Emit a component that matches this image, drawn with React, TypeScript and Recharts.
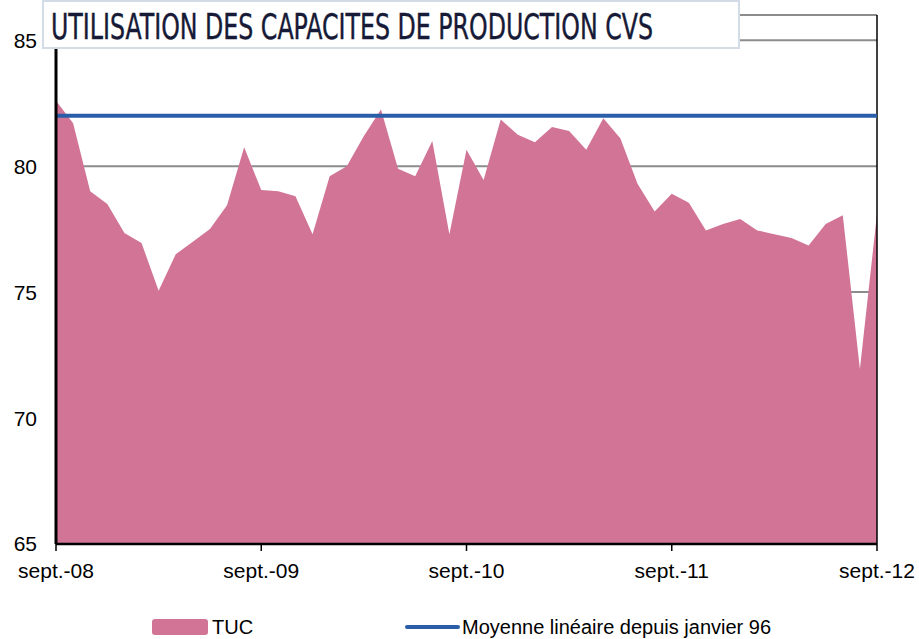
import React from "react"
import { AreaChart, Area, XAxis, YAxis, CartesianGrid, ReferenceLine } from "recharts"

const months = [
  "sept.-08", "oct.-08", "nov.-08", "déc.-08",
  "janv.-09", "févr.-09", "mars-09", "avr.-09", "mai-09", "juin-09", "juil.-09", "août-09", "sept.-09", "oct.-09", "nov.-09", "déc.-09",
  "janv.-10", "févr.-10", "mars-10", "avr.-10", "mai-10", "juin-10", "juil.-10", "août-10", "sept.-10", "oct.-10", "nov.-10", "déc.-10",
  "janv.-11", "févr.-11", "mars-11", "avr.-11", "mai-11", "juin-11", "juil.-11", "août-11", "sept.-11", "oct.-11", "nov.-11", "déc.-11",
  "janv.-12", "févr.-12", "mars-12", "avr.-12", "mai-12", "juin-12", "juil.-12", "août-12", "sept.-12",
]

const tuc = [
  82.6, 81.7, 79.0, 78.5,
  77.35, 76.95, 75.05, 76.5, 77.0, 77.5, 78.45, 80.75, 79.05, 79.0, 78.8, 77.3,
  79.6, 80.0, 81.2, 82.25, 79.9, 79.6, 81.0, 77.3, 80.65, 79.45, 81.85, 81.25,
  80.95, 81.55, 81.4, 80.65, 81.9, 81.1, 79.3, 78.2, 78.9, 78.55, 77.45, 77.7,
  77.9, 77.45, 77.3, 77.15, 76.85, 77.7, 78.05, 71.95, 78.1,
]

// moyenne linéaire depuis janvier 96
const moyenne = 82

const yTicks = [65, 70, 75, 80, 85]

const data = months.map((m, i) => ({ month: m, tuc: tuc[i] }))

const PINK = "#d17496"
const BLUE = "#2a5ea8"
const FONT = "'Liberation Sans', Arial, sans-serif"

export default function App() {
  return (
    <div style={{ position: "absolute", left: 0, top: 0, width: 919, height: 639, background: "#fff", overflow: "hidden" }}>
      <AreaChart width={919} height={639} data={data} margin={{ top: 15, right: 42, left: 0, bottom: 55 }}>
        <CartesianGrid vertical={false} stroke="#8c8c8c" strokeWidth={2} />
        <ReferenceLine y={86} stroke="#8c8c8c" strokeWidth={2} />
        <ReferenceLine x="sept.-12" stroke="#000" strokeWidth={1.5} />
        <XAxis
          dataKey="month"
          interval={11}
          height={40}
          tickSize={7}
          tickMargin={12}
          axisLine={{ stroke: "#000", strokeWidth: 2.5 }}
          tickLine={{ stroke: "#000", strokeWidth: 1.5 }}
          tick={{ fill: "#000", fontSize: 21, fontFamily: FONT }}
        />
        <YAxis
          domain={[65, 86]}
          ticks={yTicks}
          width={56}
          tickSize={0}
          tickMargin={19}
          axisLine={{ stroke: "#000", strokeWidth: 3 }}
          tickLine={false}
          tick={{ fill: "#000", fontSize: 21, fontFamily: FONT }}
        />
        <Area
          type="linear"
          dataKey="tuc"
          baseValue={65}
          stroke="none"
          fill={PINK}
          fillOpacity={1}
          isAnimationActive={false}
        />
        <ReferenceLine y={moyenne} stroke={BLUE} strokeWidth={4} />
      </AreaChart>

      <div
        style={{
          position: "absolute",
          left: 42,
          top: 0,
          width: 694,
          height: 45,
          background: "#fff",
          border: "2px solid #d3dbe6",
        }}
      >
        <svg width={860} height={45} style={{ display: "block", overflow: "visible" }}>
          <text
            x={7}
            y={37}
            fontFamily="'DejaVu Sans Condensed', 'Liberation Sans', sans-serif"
            fontSize={35}
            fill="#161a36"
            stroke="#161a36"
            strokeWidth={0.4}
            textLength={602}
            lengthAdjust="spacingAndGlyphs"
          >
            UTILISATION DES CAPACITES DE PRODUCTION CVS
          </text>
        </svg>
      </div>

      <div style={{ position: "absolute", left: 152, top: 619, width: 56, height: 16, background: PINK, borderRadius: 3 }} />
      <div style={{ position: "absolute", left: 212, top: 615, fontFamily: FONT, fontSize: 20, lineHeight: "24px", color: "#000" }}>
        TUC
      </div>
      <div style={{ position: "absolute", left: 405, top: 625, width: 55, height: 4, background: BLUE, borderRadius: 2 }} />
      <div style={{ position: "absolute", left: 462, top: 615, fontFamily: FONT, fontSize: 20, lineHeight: "24px", color: "#000" }}>
        Moyenne linéaire depuis janvier 96
      </div>
    </div>
  )
}
